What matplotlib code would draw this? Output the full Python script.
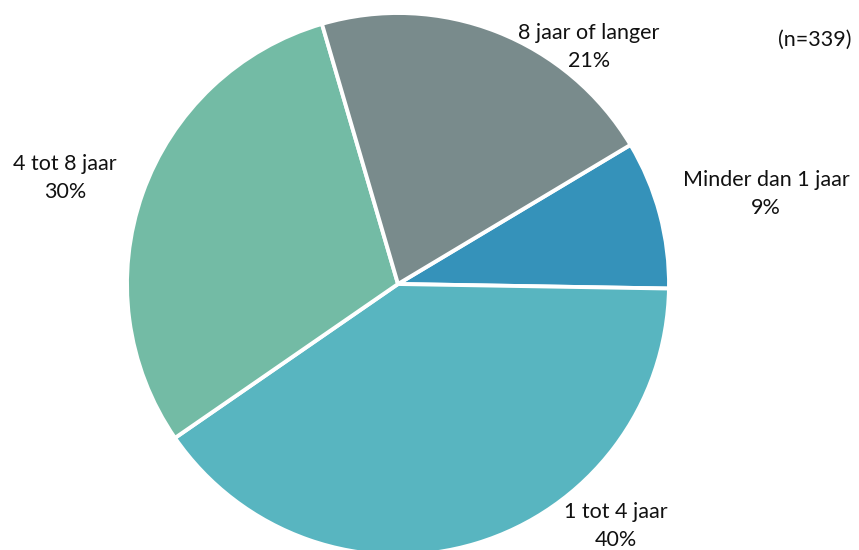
import matplotlib
matplotlib.use('Agg')
import matplotlib.pyplot as plt

# data (clockwise from the upper edge of the first slice)
categories = ["Minder dan 1 jaar", "1 tot 4 jaar", "4 tot 8 jaar", "8 jaar of langer"]
counts = [30, 136, 102, 71]
colors = ["#3592BA", "#58B5C0", "#73BBA5", "#798B8C"]
n_total = sum(counts)

W, H = 859, 550
cx, cy, r = 398, 284, 271  # pie centre and radius in pixels


def px(x, y):
    # pixel position -> data coords (pie radius = 1)
    return (x - cx) / r, (cy - y) / r


fig = plt.figure(figsize=(W / 100, H / 100), dpi=100)
ax = fig.add_axes([0, 0, 1, 1])

wedges, _ = ax.pie(counts, colors=colors, startangle=30.9, counterclock=False,
                   wedgeprops=dict(edgecolor="white", linewidth=2.8))

ax.set_xlim(-cx / r, (W - cx) / r)
ax.set_ylim(-(H - cy) / r, cy / r)
ax.axis('off')

font = ["Lato", "DejaVu Sans"]
fs = 15.5
label_pos = {
    "Minder dan 1 jaar": (766, 194),
    "1 tot 4 jaar": (616, 526),
    "4 tot 8 jaar": (65, 178),
    "8 jaar of langer": (589, 47),
}
for cat, c in zip(categories, counts):
    pct = round(100 * c / n_total)
    x, y = px(*label_pos[cat])
    ax.text(x, y, "{0}\n{1}%".format(cat, pct), ha='center', va='center',
            fontsize=fs, family=font, color="#111111", linespacing=1.45)

x, y = px(815, 40)
ax.text(x, y, "(n={0})".format(n_total), ha='center', va='center',
        fontsize=fs, family=font, color="#111111")

fig.savefig("out.png", dpi=100)
